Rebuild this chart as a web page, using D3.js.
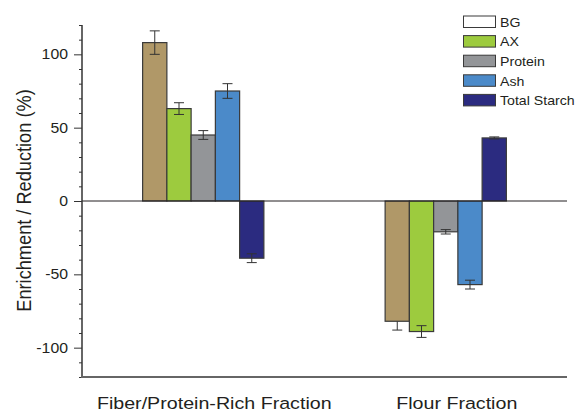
<!DOCTYPE html>
<html>
<head>
<meta charset="utf-8">
<script src="https://cdn.jsdelivr.net/npm/d3@7"></script>
<style>
  html, body { margin: 0; padding: 0; background: #fff; }
  svg { display: block; }
  text { font-family: "Liberation Sans", Arial, sans-serif; fill: #231f20; }
</style>
</head>
<body>
<svg id="chart" width="579" height="413"></svg>
<script>
// ---- data ----
const categories = ["Fiber/Protein-Rich Fraction", "Flour Fraction"];
const seriesNames = ["BG", "AX", "Protein", "Ash", "Total Starch"];
const fiberValues = [108, 63, 45, 75, -39];
const fiberErrUp = [8, 4, 3, 5, 3];
const fiberErrDown = [8, 4, 3, 5, 3];
const flourValues = [-82, -89, -21, -57, 43];
const flourErrUp = [0, 4, 1.5, 3, 0.7];
const flourErrDown = [6, 4, 1.5, 3, 0.7];
const majorTicks = [-100, -50, 0, 50, 100];
const majorTickLabels = ["-100", "-50", "0", "50", "100"];
const minorTicks = [-120, -110, -90, -80, -70, -60, -40, -30, -20, -10, 10, 20, 30, 40, 60, 70, 80, 90, 110, 120];

const barColors = ["#b09868", "#9dcb3e", "#939598", "#4b8ac9", "#2b2b80"];
const legendColors = ["#ffffff", "#9dcb3e", "#939598", "#4b8ac9", "#2b2b80"];

const SX = 1.13; // horizontal stretch of the original figure's text

const svg = d3.select("#chart");
const mLeft = 82, mRight = 567, mTop = 25, mBottom = 377;

const y = d3.scaleLinear().domain([-120, 120]).range([mBottom, mTop]);
const x = d3.scaleBand().domain(categories).range([mLeft, mRight]).padding(0);
const bw = x.bandwidth();
const xs = d3.scaleBand().domain(seriesNames).range([bw * 0.25, bw * 0.75]).padding(0);

const rows = [];
categories.forEach((c, ci) => {
  const vals = ci === 0 ? fiberValues : flourValues;
  const up = ci === 0 ? fiberErrUp : flourErrUp;
  const dn = ci === 0 ? fiberErrDown : flourErrDown;
  seriesNames.forEach((s, si) => {
    rows.push({ cat: c, s, si, v: vals[si], up: up[si], dn: dn[si] });
  });
});

// bars
svg.append("g").selectAll("rect").data(rows).join("rect")
  .attr("x", d => x(d.cat) + xs(d.s))
  .attr("width", xs.bandwidth())
  .attr("y", d => y(Math.max(0, d.v)))
  .attr("height", d => Math.abs(y(d.v) - y(0)))
  .attr("fill", d => barColors[d.si])
  .attr("stroke", "#3a3a3a")
  .attr("stroke-width", 1.2);

// zero line
svg.append("line")
  .attr("x1", mLeft).attr("x2", mRight)
  .attr("y1", y(0)).attr("y2", y(0))
  .attr("stroke", "#231f20").attr("stroke-width", 1);

// error bars
const eg = svg.append("g").attr("stroke", "#333").attr("stroke-width", 1);
rows.forEach(d => {
  const cx = x(d.cat) + xs(d.s) + xs.bandwidth() / 2;
  const topV = d.v + d.up;
  const botV = d.v - d.dn;
  eg.append("line").attr("x1", cx).attr("x2", cx).attr("y1", y(topV)).attr("y2", y(botV));
  if (d.up > 0) eg.append("line").attr("x1", cx - 5).attr("x2", cx + 5).attr("y1", y(topV)).attr("y2", y(topV));
  if (d.dn > 0) eg.append("line").attr("x1", cx - 5).attr("x2", cx + 5).attr("y1", y(botV)).attr("y2", y(botV));
});

// y axis
svg.append("g").attr("transform", `translate(${mLeft},0)`)
  .call(d3.axisLeft(y).tickValues(minorTicks).tickSize(3).tickFormat(""))
  .call(g => g.select(".domain").remove())
  .call(g => g.selectAll("line").attr("stroke", "#333"));
svg.append("g").attr("transform", `translate(${mLeft},0)`)
  .call(d3.axisLeft(y).tickValues(majorTicks).tickSize(8).tickPadding(6)
    .tickFormat((d, i) => majorTickLabels[i]))
  .call(g => g.select(".domain").remove())
  .call(g => g.selectAll("line").attr("stroke", "#333"))
  .call(g => g.selectAll("text")
    .attr("x", -14 / SX)
    .attr("transform", `scale(${SX},1)`)
    .style("font-family", '"Liberation Sans", Arial, sans-serif')
    .style("font-size", "14px")
    .attr("fill", "#231f20"));
svg.append("line").attr("x1", mLeft).attr("x2", mLeft).attr("y1", mTop).attr("y2", mBottom)
  .attr("stroke", "#333").attr("stroke-width", 1.5);

// bottom axis line
svg.append("line").attr("x1", mLeft - 1).attr("x2", mRight).attr("y1", mBottom).attr("y2", mBottom)
  .attr("stroke", "#666").attr("stroke-width", 2);

// category labels
svg.append("g").selectAll("text").data(categories).join("text")
  .attr("transform", d => `translate(${x(d) + bw / 2 + 11},409) scale(${SX},1)`)
  .attr("text-anchor", "middle")
  .style("font-size", "17.4px")
  .text(d => d);

// y title
svg.append("text")
  .attr("transform", `translate(31,200.5) scale(${SX},1) rotate(-90)`)
  .attr("text-anchor", "middle")
  .style("font-size", "18.2px")
  .text("Enrichment / Reduction (%)");

// legend
const lg = svg.append("g");
seriesNames.forEach((s, i) => {
  const ty = 16 + i * 19.6;
  lg.append("rect").attr("x", 463.5).attr("y", ty).attr("width", 32).attr("height", 11.5)
    .attr("fill", legendColors[i]).attr("stroke", "#3a3a3a").attr("stroke-width", 1);
  lg.append("text")
    .attr("transform", `translate(500,${ty + 10.8}) scale(1.09,1)`)
    .style("font-size", "13px")
    .text(s);
});
</script>
</body>
</html>
